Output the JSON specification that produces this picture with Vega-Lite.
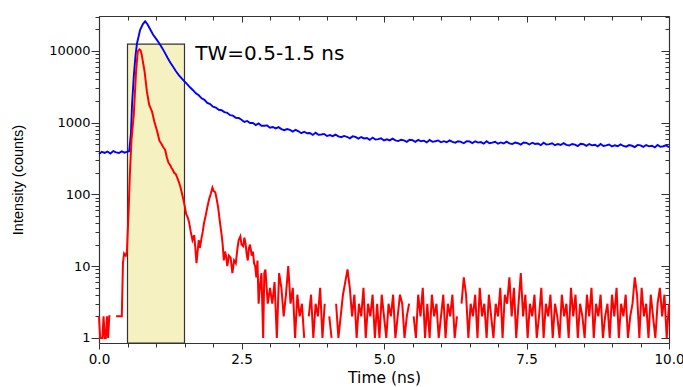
{
 "$schema": "https://vega.github.io/schema/vega-lite/v6.json",
 "width": 570, "height": 327,
 "autosize": "none",
 "padding": {"left": 99, "top": 16, "right": 14, "bottom": 44},
 "background": "white",
 "config": {
  "view": {"stroke": null},
  "axis": {"grid": false, "domainColor": "#333", "domainWidth": 1.2, "tickColor": "#333", "tickWidth": 1, "labelColor": "#000", "titleColor": "#000", "labelFont": "DejaVu Sans", "titleFont": "DejaVu Sans", "titleFontWeight": "normal", "labelFlush": false, "labelOverlap": false}
 },
 "datasets": {
  "blue": [
   {"t":0.00,"c":365},{"t":0.05,"c":392},{"t":0.10,"c":378},{"t":0.15,"c":396},{"t":0.20,"c":372},{"t":0.25,"c":401},{"t":0.30,"c":384},{"t":0.35,"c":377},{"t":0.40,"c":398},{"t":0.45,"c":382},{"t":0.50,"c":395},{"t":0.53,"c":400},
   {"t":0.56,"c":700},{"t":0.58,"c":1800},{"t":0.61,"c":4400},{"t":0.64,"c":8500},{"t":0.667,"c":12800},{"t":0.70,"c":16500},{"t":0.72,"c":19500},{"t":0.77,"c":23600},{"t":0.81,"c":25800},{"t":0.85,"c":23500},{"t":0.90,"c":19800},{"t":0.95,"c":16800},
   {"t":1.00,"c":14800},{"t":1.05,"c":13000},{"t":1.10,"c":11200},{"t":1.15,"c":9600},{"t":1.20,"c":8100},{"t":1.25,"c":6900},{"t":1.30,"c":6000},{"t":1.35,"c":5200},{"t":1.40,"c":4600},{"t":1.45,"c":4150},{"t":1.50,"c":3750},{"t":1.55,"c":3420},{"t":1.60,"c":3080},{"t":1.65,"c":2830},{"t":1.70,"c":2560},{"t":1.75,"c":2400},{"t":1.80,"c":2180},{"t":1.85,"c":2080},{"t":1.90,"c":1880},{"t":1.95,"c":1810},{"t":2.00,"c":1670},{"t":2.05,"c":1620},{"t":2.10,"c":1510},{"t":2.15,"c":1490},{"t":2.20,"c":1400},{"t":2.25,"c":1370},{"t":2.30,"c":1270},{"t":2.35,"c":1250},{"t":2.40,"c":1170},{"t":2.45,"c":1160},
   {"t":2.50,"c":1095},{"t":2.55,"c":1020},{"t":2.60,"c":1055},{"t":2.65,"c":990},{"t":2.70,"c":990},{"t":2.75,"c":925},{"t":2.80,"c":975},{"t":2.85,"c":905},{"t":2.90,"c":905},{"t":2.95,"c":915},
   {"t":3.00,"c":850},{"t":3.05,"c":870},{"t":3.10,"c":832},{"t":3.15,"c":866},{"t":3.20,"c":812},{"t":3.25,"c":786},{"t":3.30,"c":815},{"t":3.35,"c":790},{"t":3.40,"c":750},{"t":3.45,"c":794},{"t":3.50,"c":757},{"t":3.55,"c":712},{"t":3.60,"c":747},{"t":3.65,"c":710},{"t":3.70,"c":717},{"t":3.75,"c":674},{"t":3.80,"c":723},{"t":3.85,"c":675},{"t":3.90,"c":683},{"t":3.95,"c":696},
   {"t":4.00,"c":650},{"t":4.05,"c":672},{"t":4.10,"c":647},{"t":4.15,"c":681},{"t":4.20,"c":644},{"t":4.25,"c":626},{"t":4.30,"c":653},{"t":4.35,"c":635},{"t":4.40,"c":605},{"t":4.45,"c":644},{"t":4.50,"c":633},{"t":4.55,"c":598},{"t":4.60,"c":630},{"t":4.65,"c":602},{"t":4.70,"c":610},{"t":4.75,"c":575},{"t":4.80,"c":619},{"t":4.85,"c":580},{"t":4.90,"c":588},{"t":4.95,"c":603},
   {"t":5.00,"c":565},{"t":5.05,"c":586},{"t":5.10,"c":565},{"t":5.15,"c":598},{"t":5.20,"c":566},{"t":5.25,"c":553},{"t":5.30,"c":578},{"t":5.35,"c":565},{"t":5.40,"c":540},{"t":5.45,"c":578},{"t":5.50,"c":571},{"t":5.55,"c":541},{"t":5.60,"c":574},{"t":5.65,"c":550},{"t":5.70,"c":561},{"t":5.75,"c":531},{"t":5.80,"c":574},{"t":5.85,"c":540},{"t":5.90,"c":550},{"t":5.95,"c":565},
   {"t":6.00,"c":532},{"t":6.05,"c":552},{"t":6.10,"c":534},{"t":6.15,"c":566},{"t":6.20,"c":538},{"t":6.25,"c":525},{"t":6.30,"c":551},{"t":6.35,"c":539},{"t":6.40,"c":516},{"t":6.45,"c":552},{"t":6.50,"c":546},{"t":6.55,"c":518},{"t":6.60,"c":549},{"t":6.65,"c":527},{"t":6.70,"c":536},{"t":6.75,"c":509},{"t":6.80,"c":550},{"t":6.85,"c":517},{"t":6.90,"c":527},{"t":6.95,"c":542},
   {"t":7.00,"c":509},{"t":7.05,"c":529},{"t":7.10,"c":512},{"t":7.15,"c":542},{"t":7.20,"c":515},{"t":7.25,"c":503},{"t":7.30,"c":527},{"t":7.35,"c":516},{"t":7.40,"c":494},{"t":7.45,"c":529},{"t":7.50,"c":522},{"t":7.55,"c":496},{"t":7.60,"c":525},{"t":7.65,"c":504},{"t":7.70,"c":512},{"t":7.75,"c":486},{"t":7.80,"c":525},{"t":7.85,"c":494},{"t":7.90,"c":502},{"t":7.95,"c":516},
   {"t":8.00,"c":485},{"t":8.05,"c":504},{"t":8.10,"c":488},{"t":8.15,"c":517},{"t":8.20,"c":491},{"t":8.25,"c":480},{"t":8.30,"c":504},{"t":8.35,"c":493},{"t":8.40,"c":472},{"t":8.45,"c":506},{"t":8.50,"c":500},{"t":8.55,"c":474},{"t":8.60,"c":503},{"t":8.65,"c":482},{"t":8.70,"c":491},{"t":8.75,"c":466},{"t":8.80,"c":503},{"t":8.85,"c":473},{"t":8.90,"c":482},{"t":8.95,"c":495},
   {"t":9.00,"c":466},{"t":9.05,"c":484},{"t":9.10,"c":469},{"t":9.15,"c":497},{"t":9.20,"c":473},{"t":9.25,"c":463},{"t":9.30,"c":486},{"t":9.35,"c":476},{"t":9.40,"c":456},{"t":9.45,"c":489},{"t":9.50,"c":483},{"t":9.55,"c":459},{"t":9.60,"c":487},{"t":9.65,"c":467},{"t":9.70,"c":476},{"t":9.75,"c":452},{"t":9.80,"c":489},{"t":9.85,"c":460},{"t":9.90,"c":469},{"t":9.95,"c":482},{"t":10.00,"c":454}
  ],
  "red": [
   {"t":0,"c":2},{"t":0.02,"c":1},{"t":0.04,"c":1},{"t":0.06,"c":1},{"t":0.08,"c":2},{"t":0.10,"c":1},{"t":0.12,"c":1},{"t":0.14,"c":2},{"t":0.16,"c":1},{"t":0.18,"c":2},{"t":0.20,"c":2},{"t":0.25,"c":null},{"t":0.30,"c":2},{"t":0.40,"c":2},
   {"t":0.42,"c":11},{"t":0.44,"c":15},{"t":0.47,"c":14},{"t":0.49,"c":16},{"t":0.52,"c":60},{"t":0.54,"c":180},{"t":0.57,"c":580},{"t":0.61,"c":1290},{"t":0.65,"c":5160},{"t":0.68,"c":9800},{"t":0.71,"c":10500},{"t":0.73,"c":10200},{"t":0.75,"c":8800},{"t":0.80,"c":5150},{"t":0.84,"c":2720},{"t":0.88,"c":1780},{"t":0.91,"c":1560},{"t":0.93,"c":1430},{"t":0.97,"c":1040},
   {"t":1.02,"c":760},{"t":1.06,"c":560},{"t":1.10,"c":500},{"t":1.13,"c":450},{"t":1.16,"c":420},{"t":1.19,"c":330},{"t":1.22,"c":275},{"t":1.25,"c":255},{"t":1.27,"c":235},{"t":1.29,"c":222},{"t":1.32,"c":200},{"t":1.35,"c":190},{"t":1.37,"c":172},{"t":1.40,"c":150},{"t":1.43,"c":126},{"t":1.46,"c":100},{"t":1.49,"c":78},{"t":1.51,"c":65},{"t":1.53,"c":53},{"t":1.56,"c":47},{"t":1.58,"c":41},{"t":1.61,"c":30},{"t":1.64,"c":23},{"t":1.67,"c":27},{"t":1.69,"c":18},{"t":1.71,"c":11},{"t":1.73,"c":16},{"t":1.75,"c":23},{"t":1.77,"c":18},{"t":1.80,"c":25},{"t":1.82,"c":30},{"t":1.84,"c":39},{"t":1.87,"c":50},{"t":1.90,"c":66},{"t":1.93,"c":85},{"t":1.96,"c":101},{"t":1.99,"c":124},
   {"t":2.01,"c":112},{"t":2.04,"c":107},{"t":2.06,"c":90},{"t":2.09,"c":66},{"t":2.12,"c":42},{"t":2.15,"c":28},{"t":2.17,"c":20},{"t":2.19,"c":12},{"t":2.21,"c":16},{"t":2.23,"c":14},{"t":2.25,"c":10},{"t":2.28,"c":14},{"t":2.31,"c":13},{"t":2.34,"c":8},{"t":2.37,"c":12},{"t":2.40,"c":11},{"t":2.43,"c":18},{"t":2.45,"c":23},{"t":2.48,"c":26},{"t":2.50,"c":20},{"t":2.53,"c":19},{"t":2.55,"c":25},{"t":2.57,"c":21},{"t":2.59,"c":15},{"t":2.61,"c":12},{"t":2.63,"c":18},{"t":2.65,"c":20},{"t":2.68,"c":14},{"t":2.70,"c":16},{"t":2.72,"c":11},{"t":2.74,"c":10},{"t":2.76,"c":7},{"t":2.78,"c":12},{"t":2.80,"c":3},{"t":2.83,"c":6},{"t":2.85,"c":8},{"t":2.88,"c":1},{"t":2.90,"c":8},
   {"t":2.92,"c":9},{"t":2.96,"c":3},{"t":3.00,"c":5},{"t":3.04,"c":3},{"t":3.08,"c":6},{"t":3.12,"c":1},{"t":3.16,"c":8},{"t":3.20,"c":5},{"t":3.24,"c":2},{"t":3.28,"c":4},{"t":3.32,"c":10},{"t":3.36,"c":3},{"t":3.40,"c":5},{"t":3.44,"c":1},{"t":3.48,"c":4},{"t":3.52,"c":2},{"t":3.56,"c":3},{"t":3.60,"c":1},{"t":3.64,"c":null},{"t":3.68,"c":2},{"t":3.72,"c":4},{"t":3.76,"c":1},{"t":3.80,"c":3},{"t":3.84,"c":2},{"t":3.88,"c":5},{"t":3.92,"c":1},{"t":3.96,"c":3},
   {"t":4.00,"c":null},{"t":4.04,"c":2},{"t":4.08,"c":1},{"t":4.12,"c":null},{"t":4.16,"c":3},{"t":4.20,"c":1},{"t":4.24,"c":2},{"t":4.28,"c":4},{"t":4.32,"c":6},{"t":4.36,"c":9},{"t":4.40,"c":5},{"t":4.44,"c":2},{"t":4.48,"c":4},{"t":4.52,"c":1},{"t":4.56,"c":3},{"t":4.60,"c":2},{"t":4.64,"c":5},{"t":4.68,"c":1},{"t":4.72,"c":3},{"t":4.76,"c":2},{"t":4.80,"c":4},{"t":4.84,"c":1},{"t":4.88,"c":3},{"t":4.92,"c":1},{"t":4.96,"c":4},
   {"t":5.00,"c":2},{"t":5.04,"c":1},{"t":5.08,"c":3},{"t":5.12,"c":2},{"t":5.16,"c":4},{"t":5.20,"c":1},{"t":5.24,"c":2},{"t":5.28,"c":4},{"t":5.32,"c":3},{"t":5.36,"c":1},{"t":5.40,"c":2},{"t":5.44,"c":3},{"t":5.48,"c":null},{"t":5.52,"c":2},{"t":5.56,"c":1},{"t":5.60,"c":4},{"t":5.64,"c":2},{"t":5.68,"c":5},{"t":5.72,"c":1},{"t":5.76,"c":3},{"t":5.80,"c":1},{"t":5.84,"c":4},{"t":5.88,"c":2},{"t":5.92,"c":3},{"t":5.96,"c":1},
   {"t":6.00,"c":2},{"t":6.04,"c":4},{"t":6.08,"c":1},{"t":6.12,"c":3},{"t":6.16,"c":2},{"t":6.20,"c":4},{"t":6.24,"c":1},{"t":6.28,"c":2},{"t":6.32,"c":null},{"t":6.36,"c":3},{"t":6.40,"c":7},{"t":6.44,"c":4},{"t":6.48,"c":1},{"t":6.52,"c":3},{"t":6.56,"c":2},{"t":6.60,"c":4},{"t":6.64,"c":1},{"t":6.68,"c":5},{"t":6.72,"c":2},{"t":6.76,"c":3},{"t":6.80,"c":1},{"t":6.84,"c":4},{"t":6.88,"c":2},{"t":6.92,"c":1},{"t":6.96,"c":3},
   {"t":7.00,"c":2},{"t":7.04,"c":5},{"t":7.08,"c":1},{"t":7.12,"c":4},{"t":7.16,"c":3},{"t":7.20,"c":7},{"t":7.24,"c":2},{"t":7.28,"c":5},{"t":7.32,"c":1},{"t":7.36,"c":3},{"t":7.40,"c":8},{"t":7.44,"c":2},{"t":7.48,"c":4},{"t":7.52,"c":1},{"t":7.56,"c":3},{"t":7.60,"c":2},{"t":7.64,"c":4},{"t":7.68,"c":1},{"t":7.72,"c":2},{"t":7.76,"c":5},{"t":7.80,"c":1},{"t":7.84,"c":3},{"t":7.88,"c":2},{"t":7.92,"c":4},{"t":7.96,"c":1},
   {"t":8.00,"c":3},{"t":8.04,"c":2},{"t":8.08,"c":1},{"t":8.12,"c":4},{"t":8.16,"c":2},{"t":8.20,"c":3},{"t":8.24,"c":1},{"t":8.28,"c":5},{"t":8.32,"c":2},{"t":8.36,"c":4},{"t":8.40,"c":1},{"t":8.44,"c":3},{"t":8.48,"c":2},{"t":8.52,"c":1},{"t":8.56,"c":4},{"t":8.60,"c":2},{"t":8.64,"c":5},{"t":8.68,"c":1},{"t":8.72,"c":3},{"t":8.76,"c":2},{"t":8.80,"c":4},{"t":8.84,"c":1},{"t":8.88,"c":2},{"t":8.92,"c":3},{"t":8.96,"c":1},
   {"t":9.00,"c":4},{"t":9.04,"c":2},{"t":9.08,"c":5},{"t":9.12,"c":1},{"t":9.16,"c":3},{"t":9.20,"c":2},{"t":9.24,"c":4},{"t":9.28,"c":1},{"t":9.32,"c":2},{"t":9.36,"c":3},{"t":9.40,"c":7},{"t":9.44,"c":4},{"t":9.48,"c":1},{"t":9.52,"c":5},{"t":9.56,"c":2},{"t":9.60,"c":3},{"t":9.64,"c":1},{"t":9.68,"c":4},{"t":9.72,"c":2},{"t":9.76,"c":1},{"t":9.80,"c":3},{"t":9.84,"c":5},{"t":9.88,"c":2},{"t":9.92,"c":4},{"t":9.96,"c":1},{"t":10.00,"c":3}
  ]
 },
 "layer": [
  {
   "data": {"values": [{"t0": 0.5, "t1": 1.5, "c0": 0.85, "c1": 12400}]},
   "mark": {"type": "rect", "fill": "#f6f1c1", "stroke": "#333", "strokeWidth": 1.2},
   "encoding": {
    "x": {"field": "t0", "type": "quantitative", "scale": {"domain": [0, 10], "nice": false, "zero": false},
     "axis": {"orient": "bottom", "values": [0, 2.5, 5, 7.5, 10], "format": ".1f", "tickSize": 6, "labelPadding": 3, "labelFontSize": 13.5, "title": "Time (ns)", "titleFontSize": 15.5, "titlePadding": 5}},
    "x2": {"field": "t1"},
    "y": {"field": "c1", "type": "quantitative", "scale": {"type": "log", "domain": [0.85, 30600], "nice": false},
     "axis": {"orient": "left", "values": [1, 10, 100, 1000, 10000], "format": "d", "tickSize": 8, "labelPadding": 1, "labelFontSize": 13, "title": "Intensity (counts)", "titleFont": "Liberation Sans", "titleFontSize": 14.5, "titlePadding": 23}},
    "y2": {"field": "c0"}
   }
  },
  {
   "data": {"name": "blue"},
   "mark": {"type": "line", "color": "#0000ff", "strokeWidth": 1.9},
   "encoding": {
    "x": {"field": "t", "type": "quantitative", "scale": {"domain": [0, 10], "nice": false, "zero": false},
     "axis": {"orient": "bottom", "values": [0.5, 1, 1.5, 2, 3, 3.5, 4, 4.5, 5.5, 6, 6.5, 7, 8, 8.5, 9, 9.5], "tickSize": 4, "labels": false, "domain": false, "title": null}},
    "y": {"field": "c", "type": "quantitative", "scale": {"type": "log", "domain": [0.85, 30600], "nice": false},
     "axis": {"orient": "left", "values": [2,3,4,5,6,7,8,9,20,30,40,50,60,70,80,90,200,300,400,500,600,700,800,900,2000,3000,4000,5000,6000,7000,8000,9000,20000,30000], "tickSize": 4, "labels": false, "domain": false, "title": null}}
   }
  },
  {
   "data": {"name": "red"},
   "mark": {"type": "line", "color": "#ff0000", "strokeWidth": 2},
   "encoding": {
    "x": {"field": "t", "type": "quantitative", "scale": {"domain": [0, 10], "nice": false, "zero": false},
     "axis": {"orient": "top", "values": [0, 2.5, 5, 7.5, 10], "tickSize": -6, "labels": false, "title": null}},
    "y": {"field": "c", "type": "quantitative", "scale": {"type": "log", "domain": [0.85, 30600], "nice": false},
     "axis": {"orient": "right", "values": [1, 10, 100, 1000, 10000], "tickSize": -8, "labels": false, "title": null}}
   }
  },
  {
   "data": {"values": [{"t": 1.69, "c": 7500, "label": "TW=0.5-1.5 ns"}]},
   "mark": {"type": "text", "align": "left", "baseline": "alphabetic", "font": "DejaVu Sans", "fontSize": 20, "color": "#000"},
   "encoding": {
    "x": {"field": "t", "type": "quantitative", "scale": {"domain": [0, 10], "nice": false, "zero": false},
     "axis": {"orient": "top", "values": [0.5, 1, 1.5, 2, 3, 3.5, 4, 4.5, 5.5, 6, 6.5, 7, 8, 8.5, 9, 9.5], "tickSize": -4, "labels": false, "domain": false, "title": null}},
    "y": {"field": "c", "type": "quantitative", "scale": {"type": "log", "domain": [0.85, 30600], "nice": false},
     "axis": {"orient": "right", "values": [2,3,4,5,6,7,8,9,20,30,40,50,60,70,80,90,200,300,400,500,600,700,800,900,2000,3000,4000,5000,6000,7000,8000,9000,20000,30000], "tickSize": -4, "labels": false, "domain": false, "title": null}},
    "text": {"field": "label"}
   }
  }
 ],
 "resolve": {"axis": {"x": "independent", "y": "independent"}}
}
